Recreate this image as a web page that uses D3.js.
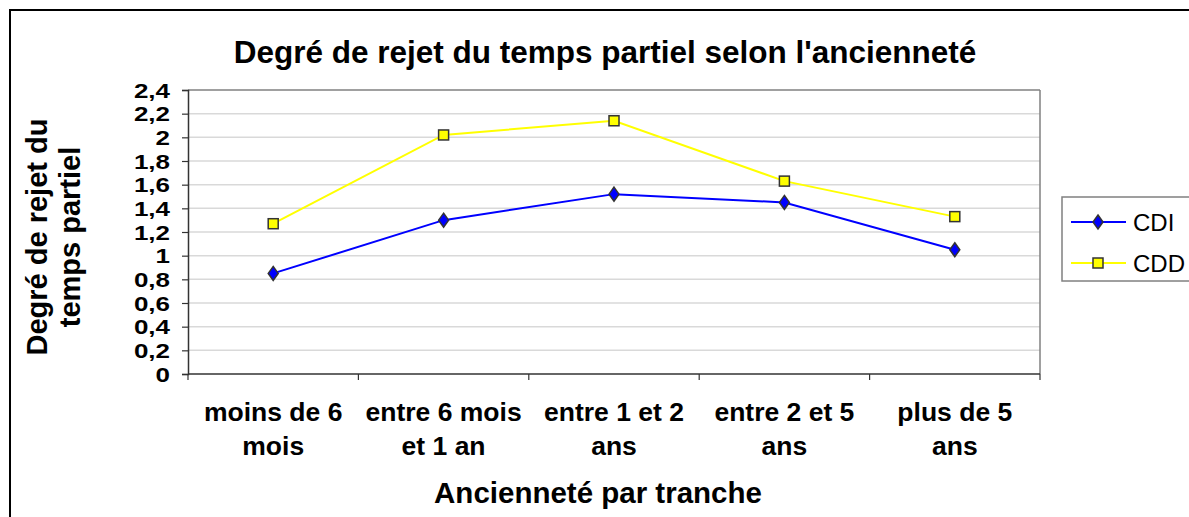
<!DOCTYPE html>
<html>
<head>
<meta charset="utf-8">
<script src="https://cdn.jsdelivr.net/npm/d3@7"></script>
<style>
  body { margin: 0; background: #fff; }
  svg { font-family: "Liberation Sans", Arial, sans-serif; display: block; }
</style>
</head>
<body>
<div id="chart"></div>
<script>
const categories = [
  ['moins de 6', 'mois'],
  ['entre 6 mois', 'et 1 an'],
  ['entre 1 et 2', 'ans'],
  ['entre 2 et 5', 'ans'],
  ['plus de 5', 'ans']
];
const cdiValues = [0.85, 1.30, 1.52, 1.45, 1.05];
const cddValues = [1.27, 2.02, 2.14, 1.63, 1.33];
const yTicks = [0, 0.2, 0.4, 0.6, 0.8, 1, 1.2, 1.4, 1.6, 1.8, 2, 2.2, 2.4];

const width = 1189;
const height = 517;
const plot = { left: 188, right: 1040, top: 90, bottom: 374 };

const svg = d3.select('#chart').append('svg')
  .attr('width', width)
  .attr('height', height);

// outer chart frame
svg.append('rect')
  .attr('x', 10)
  .attr('y', 10)
  .attr('width', width + 20)
  .attr('height', height + 20)
  .attr('fill', '#fff')
  .attr('stroke', '#000')
  .attr('stroke-width', 2);

const xScale = d3.scaleBand()
  .domain(categories.map((d, i) => i))
  .range([plot.left, plot.right]);

const yScale = d3.scaleLinear()
  .domain([0, 2.4])
  .range([plot.bottom, plot.top]);

const fmt = d => String(+d.toFixed(1)).replace('.', ',');

// grid
svg.append('g')
  .selectAll('line')
  .data(yTicks.slice(1))
  .join('line')
  .attr('x1', plot.left)
  .attr('x2', plot.right)
  .attr('y1', d => yScale(d))
  .attr('y2', d => yScale(d))
  .attr('stroke', d => d === 2.4 ? '#808080' : '#d9d9d9')
  .attr('stroke-width', 1.5);

svg.append('line')
  .attr('x1', plot.right).attr('x2', plot.right)
  .attr('y1', plot.top).attr('y2', plot.bottom)
  .attr('stroke', '#808080')
  .attr('stroke-width', 1.5);

// y axis (labels are drawn wide, as in the original)
const labelStretch = 1.3;
const yAxis = d3.axisLeft(yScale)
  .tickValues(yTicks)
  .tickFormat(fmt)
  .tickSize(6)
  .tickPadding(12);

svg.append('g')
  .attr('transform', `translate(${plot.left},0)`)
  .call(yAxis)
  .call(g => g.select('.domain').attr('stroke', '#333').attr('stroke-width', 1.5))
  .call(g => g.selectAll('.tick line').attr('stroke', '#333').attr('stroke-width', 1.2))
  .call(g => g.selectAll('.tick text')
    .attr('font-family', '"Liberation Sans", Arial, sans-serif')
    .attr('font-size', 20)
    .attr('font-weight', 'bold')
    .attr('x', -18 / labelStretch)
    .attr('transform', `scale(${labelStretch},1)`)
    .attr('dy', '0.36em')
    .attr('fill', '#000'));

// x axis
const xTickPos = d3.range(categories.length + 1).map(i => plot.left + i * xScale.step());
svg.append('line')
  .attr('x1', plot.left).attr('x2', plot.right)
  .attr('y1', plot.bottom).attr('y2', plot.bottom)
  .attr('stroke', '#333')
  .attr('stroke-width', 1.5);
svg.append('g')
  .selectAll('line')
  .data(xTickPos)
  .join('line')
  .attr('x1', d => d).attr('x2', d => d)
  .attr('y1', plot.bottom).attr('y2', plot.bottom + 6)
  .attr('stroke', '#333')
  .attr('stroke-width', 1.2);

const catLabels = svg.append('g')
  .selectAll('text')
  .data(categories)
  .join('text')
  .attr('x', (d, i) => xScale(i) + xScale.bandwidth() / 2)
  .attr('y', 421)
  .attr('text-anchor', 'middle')
  .attr('font-size', 26.5)
  .attr('font-weight', 'bold');
catLabels.selectAll('tspan')
  .data(d => d)
  .join('tspan')
  .attr('x', function () { return d3.select(this.parentNode).attr('x'); })
  .attr('dy', (d, i) => i === 0 ? 0 : 34)
  .text(d => d);

// series
const cx = i => xScale(i) + xScale.bandwidth() / 2;
const line = d3.line()
  .x((d, i) => cx(i))
  .y(d => yScale(d));

svg.append('path')
  .datum(cddValues)
  .attr('d', line)
  .attr('fill', 'none')
  .attr('stroke', '#ffff00')
  .attr('stroke-width', 2);

svg.append('path')
  .datum(cdiValues)
  .attr('d', line)
  .attr('fill', 'none')
  .attr('stroke', '#0000ff')
  .attr('stroke-width', 2);

const diamond = 'M0,-7L5,0L0,7L-5,0Z';

svg.append('g')
  .selectAll('path')
  .data(cdiValues)
  .join('path')
  .attr('transform', (d, i) => `translate(${cx(i)},${yScale(d)})`)
  .attr('d', diamond)
  .attr('fill', '#0000ff')
  .attr('stroke', '#333')
  .attr('stroke-width', 1.5);

svg.append('g')
  .selectAll('rect')
  .data(cddValues)
  .join('rect')
  .attr('x', (d, i) => cx(i) - 5)
  .attr('y', d => yScale(d) - 5)
  .attr('width', 10)
  .attr('height', 10)
  .attr('fill', '#ffff00')
  .attr('stroke', '#333')
  .attr('stroke-width', 1.5);

// titles
svg.append('text')
  .attr('x', 605)
  .attr('y', 63)
  .attr('text-anchor', 'middle')
  .attr('font-size', 31.5)
  .attr('font-weight', 'bold')
  .text("Degré de rejet du temps partiel selon l'ancienneté");

svg.append('text')
  .attr('x', 598)
  .attr('y', 503)
  .attr('text-anchor', 'middle')
  .attr('font-size', 29.5)
  .attr('font-weight', 'bold')
  .text('Ancienneté par tranche');

const yTitle = svg.append('text')
  .attr('transform', 'translate(47,237) rotate(-90)')
  .attr('text-anchor', 'middle')
  .attr('font-size', 29)
  .attr('font-weight', 'bold');
yTitle.append('tspan').attr('x', 0).attr('dy', 0).text('Degré de rejet du');
yTitle.append('tspan').attr('x', 0).attr('dy', 33).text('temps partiel');

// legend
const legendItems = [
  { name: 'CDI', color: '#0000ff', marker: 'diamond' },
  { name: 'CDD', color: '#ffff00', marker: 'square' }
];
const legend = svg.append('g');
legend.append('rect')
  .attr('x', 1062)
  .attr('y', 197)
  .attr('width', 160)
  .attr('height', 84)
  .attr('fill', '#fff')
  .attr('stroke', '#808080')
  .attr('stroke-width', 1.5);

const item = legend.selectAll('.item')
  .data(legendItems)
  .join('g')
  .attr('transform', (d, i) => `translate(1098,${222 + i * 41})`);
item.append('line')
  .attr('x1', -27).attr('x2', 28)
  .attr('stroke', d => d.color)
  .attr('stroke-width', 2);
item.filter(d => d.marker === 'diamond').append('path')
  .attr('d', diamond)
  .attr('fill', d => d.color)
  .attr('stroke', '#333')
  .attr('stroke-width', 1.5);
item.filter(d => d.marker === 'square').append('rect')
  .attr('x', -5).attr('y', -5).attr('width', 10).attr('height', 10)
  .attr('fill', d => d.color)
  .attr('stroke', '#333')
  .attr('stroke-width', 1.5);
item.append('text')
  .attr('x', 35)
  .attr('dy', '0.36em')
  .attr('font-size', 24)
  .text(d => d.name);
</script>
</body>
</html>
